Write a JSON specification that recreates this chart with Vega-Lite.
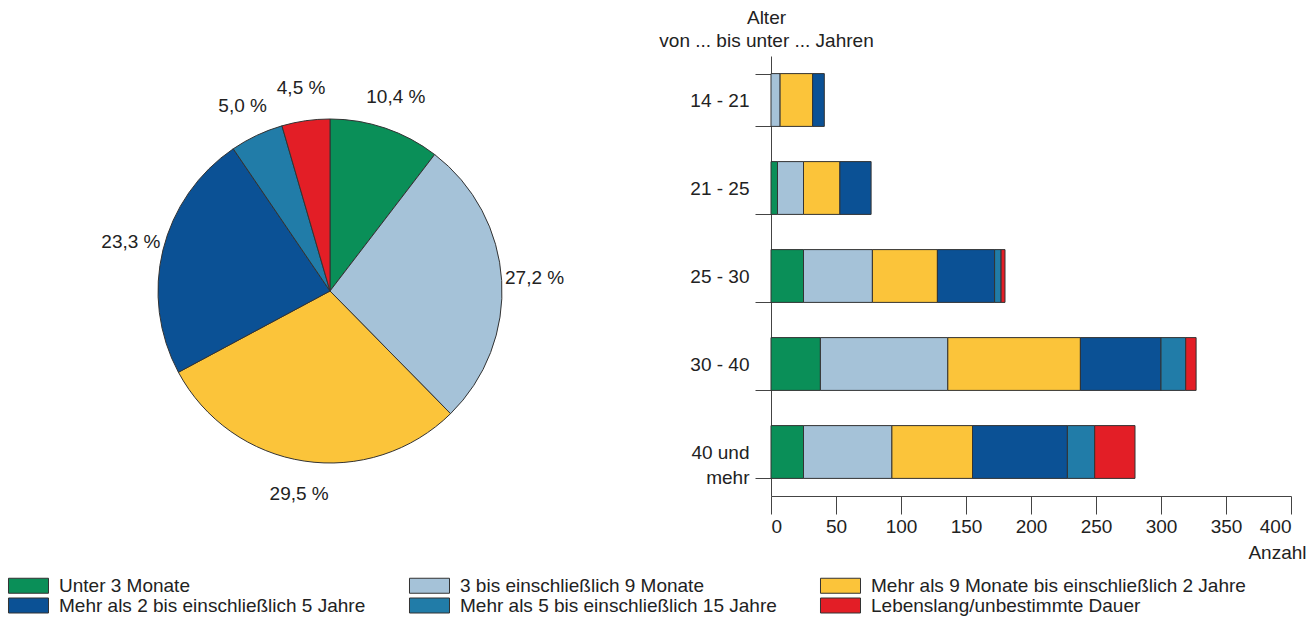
{
  "$schema": "https://vega.github.io/schema/vega-lite/v6.json",
  "padding": {"left": 0, "top": 8, "right": 3, "bottom": 0},
  "background": "white",
  "bounds": "flush",
  "spacing": 111,
  "config": {
    "font": "Liberation Sans",
    "view": {"stroke": null},
    "axis": {
      "labelFont": "Liberation Sans", "labelFontSize": 19, "labelColor": "#222",
      "titleFont": "Liberation Sans", "titleFontSize": 19, "titleFontWeight": "normal", "titleColor": "#222",
      "domainColor": "#444", "tickColor": "#444", "grid": false
    },
    "legend": {"labelFont": "Liberation Sans", "labelFontSize": 19, "labelColor": "#222"}
  },
  "datasets": {
    "pie": [
      {"Dauer": "Unter 3 Monate", "Nr": 1, "Anteil": 10.4, "Beschriftung": "10,4 %"},
      {"Dauer": "3 bis einschließlich 9 Monate", "Nr": 2, "Anteil": 27.2, "Beschriftung": "27,2 %"},
      {"Dauer": "Mehr als 9 Monate bis einschließlich 2 Jahre", "Nr": 3, "Anteil": 29.5, "Beschriftung": "29,5 %"},
      {"Dauer": "Mehr als 2 bis einschließlich 5 Jahre", "Nr": 4, "Anteil": 23.3, "Beschriftung": "23,3 %"},
      {"Dauer": "Mehr als 5 bis einschließlich 15 Jahre", "Nr": 5, "Anteil": 5.0, "Beschriftung": "5,0 %"},
      {"Dauer": "Lebenslang/unbestimmte Dauer", "Nr": 6, "Anteil": 4.5, "Beschriftung": "4,5 %"}
    ],
    "bars": [
      {"Alter": "14 - 21", "Dauer": "3 bis einschließlich 9 Monate", "Anzahl": 7},
      {"Alter": "14 - 21", "Dauer": "Mehr als 9 Monate bis einschließlich 2 Jahre", "Anzahl": 25},
      {"Alter": "14 - 21", "Dauer": "Mehr als 2 bis einschließlich 5 Jahre", "Anzahl": 9},
      {"Alter": "21 - 25", "Dauer": "Unter 3 Monate", "Anzahl": 5},
      {"Alter": "21 - 25", "Dauer": "3 bis einschließlich 9 Monate", "Anzahl": 20},
      {"Alter": "21 - 25", "Dauer": "Mehr als 9 Monate bis einschließlich 2 Jahre", "Anzahl": 28},
      {"Alter": "21 - 25", "Dauer": "Mehr als 2 bis einschließlich 5 Jahre", "Anzahl": 24},
      {"Alter": "25 - 30", "Dauer": "Unter 3 Monate", "Anzahl": 25},
      {"Alter": "25 - 30", "Dauer": "3 bis einschließlich 9 Monate", "Anzahl": 53},
      {"Alter": "25 - 30", "Dauer": "Mehr als 9 Monate bis einschließlich 2 Jahre", "Anzahl": 50},
      {"Alter": "25 - 30", "Dauer": "Mehr als 2 bis einschließlich 5 Jahre", "Anzahl": 44},
      {"Alter": "25 - 30", "Dauer": "Mehr als 5 bis einschließlich 15 Jahre", "Anzahl": 5},
      {"Alter": "25 - 30", "Dauer": "Lebenslang/unbestimmte Dauer", "Anzahl": 3},
      {"Alter": "30 - 40", "Dauer": "Unter 3 Monate", "Anzahl": 38},
      {"Alter": "30 - 40", "Dauer": "3 bis einschließlich 9 Monate", "Anzahl": 98},
      {"Alter": "30 - 40", "Dauer": "Mehr als 9 Monate bis einschließlich 2 Jahre", "Anzahl": 102},
      {"Alter": "30 - 40", "Dauer": "Mehr als 2 bis einschließlich 5 Jahre", "Anzahl": 62},
      {"Alter": "30 - 40", "Dauer": "Mehr als 5 bis einschließlich 15 Jahre", "Anzahl": 19},
      {"Alter": "30 - 40", "Dauer": "Lebenslang/unbestimmte Dauer", "Anzahl": 8},
      {"Alter": "40 und mehr", "Dauer": "Unter 3 Monate", "Anzahl": 25},
      {"Alter": "40 und mehr", "Dauer": "3 bis einschließlich 9 Monate", "Anzahl": 68},
      {"Alter": "40 und mehr", "Dauer": "Mehr als 9 Monate bis einschließlich 2 Jahre", "Anzahl": 62},
      {"Alter": "40 und mehr", "Dauer": "Mehr als 2 bis einschließlich 5 Jahre", "Anzahl": 73},
      {"Alter": "40 und mehr", "Dauer": "Mehr als 5 bis einschließlich 15 Jahre", "Anzahl": 21},
      {"Alter": "40 und mehr", "Dauer": "Lebenslang/unbestimmte Dauer", "Anzahl": 31}
    ]
  },
  "hconcat": [
    {
      "width": 660,
      "height": 470,
      "data": {"name": "pie"},
      "layer": [
        {
          "mark": {"type": "arc", "outerRadius": 172, "stroke": "#333", "strokeWidth": 1},
          "encoding": {
            "theta": {"field": "Anteil", "type": "quantitative", "stack": true},
            "order": {"field": "Nr", "type": "quantitative"},
            "color": {
              "field": "Dauer", "type": "nominal",
              "sort": ["Unter 3 Monate", "3 bis einschließlich 9 Monate", "Mehr als 9 Monate bis einschließlich 2 Jahre", "Mehr als 2 bis einschließlich 5 Jahre", "Mehr als 5 bis einschließlich 15 Jahre", "Lebenslang/unbestimmte Dauer"],
              "scale": {
                "domain": ["Unter 3 Monate", "3 bis einschließlich 9 Monate", "Mehr als 9 Monate bis einschließlich 2 Jahre", "Mehr als 2 bis einschließlich 5 Jahre", "Mehr als 5 bis einschließlich 15 Jahre", "Lebenslang/unbestimmte Dauer"],
                "range": ["#0a8f58", "#a5c2d8", "#fbc43a", "#0b5195", "#217ca8", "#e31e26"]
              },
              "legend": {
                "orient": "none", "legendX": 19, "legendY": 520,
                "direction": "horizontal", "columns": 3,
                "title": null,
                "symbolType": "M-2.667,-1H2.667V1H-2.667Z", "symbolSize": 225,
                "symbolStrokeColor": "#333", "symbolStrokeWidth": 1, "symbolOpacity": 1,
                "labelOffset": 21, "labelLimit": 600, "columnPadding": 41, "rowPadding": 0
              }
            }
          }
        },
        {
          "mark": {"type": "text", "radius": 205, "fontSize": 19, "font": "Liberation Sans", "color": "#222"},
          "encoding": {
            "theta": {"field": "Anteil", "type": "quantitative", "stack": true},
            "order": {"field": "Nr", "type": "quantitative"},
            "text": {"field": "Beschriftung", "type": "nominal"}
          }
        }
      ]
    },
    {
      "width": 520,
      "height": 440,
      "data": {"name": "bars"},
      "transform": [
        {"lookup": "Dauer", "from": {"data": {"name": "pie"}, "key": "Dauer", "fields": ["Nr"]}}
      ],
      "mark": {"type": "bar", "stroke": "#333", "strokeWidth": 1},
      "encoding": {
        "y": {
          "field": "Alter", "type": "nominal",
          "sort": ["14 - 21", "21 - 25", "25 - 30", "30 - 40", "40 und mehr"],
          "scale": {"paddingInner": 0.4, "paddingOuter": 0.2},
          "axis": {
            "title": ["Alter", "von ... bis unter ... Jahren"],
            "titleAngle": 0, "titleAlign": "center", "titleBaseline": "alphabetic",
            "titleX": -5, "titleY": -33, "titleLineHeight": 23,
            "tickBand": "extent", "tickSize": 16, "labelPadding": 6,
            "labelAlign": "right", "labelLineHeight": 25,
            "labelExpr": "datum.label == '40 und mehr' ? ['40 und', 'mehr'] : datum.label"
          }
        },
        "x": {
          "field": "Anzahl", "type": "quantitative", "stack": true,
          "scale": {"domain": [0, 400], "nice": false},
          "axis": {
            "values": [0, 50, 100, 150, 200, 250, 300, 350, 400],
            "tickSize": 18, "labelPadding": 3,
            "title": "Anzahl", "titleAnchor": "end", "titleAlign": "right",
            "titleBaseline": "alphabetic", "titleX": 535, "titleY": 62
          }
        },
        "order": {"field": "Nr", "type": "quantitative"},
        "color": {
          "field": "Dauer", "type": "nominal",
          "sort": ["Unter 3 Monate", "3 bis einschließlich 9 Monate", "Mehr als 9 Monate bis einschließlich 2 Jahre", "Mehr als 2 bis einschließlich 5 Jahre", "Mehr als 5 bis einschließlich 15 Jahre", "Lebenslang/unbestimmte Dauer"],
          "scale": {
            "domain": ["Unter 3 Monate", "3 bis einschließlich 9 Monate", "Mehr als 9 Monate bis einschließlich 2 Jahre", "Mehr als 2 bis einschließlich 5 Jahre", "Mehr als 5 bis einschließlich 15 Jahre", "Lebenslang/unbestimmte Dauer"],
            "range": ["#0a8f58", "#a5c2d8", "#fbc43a", "#0b5195", "#217ca8", "#e31e26"]
          },
          "legend": {
            "orient": "none", "legendX": 19, "legendY": 520,
            "direction": "horizontal", "columns": 3,
            "title": null,
            "symbolType": "M-2.667,-1H2.667V1H-2.667Z", "symbolSize": 225,
            "symbolStrokeColor": "#333", "symbolStrokeWidth": 1, "symbolOpacity": 1,
            "labelOffset": 21, "labelLimit": 600, "columnPadding": 41, "rowPadding": 0
          }
        }
      }
    }
  ]
}
